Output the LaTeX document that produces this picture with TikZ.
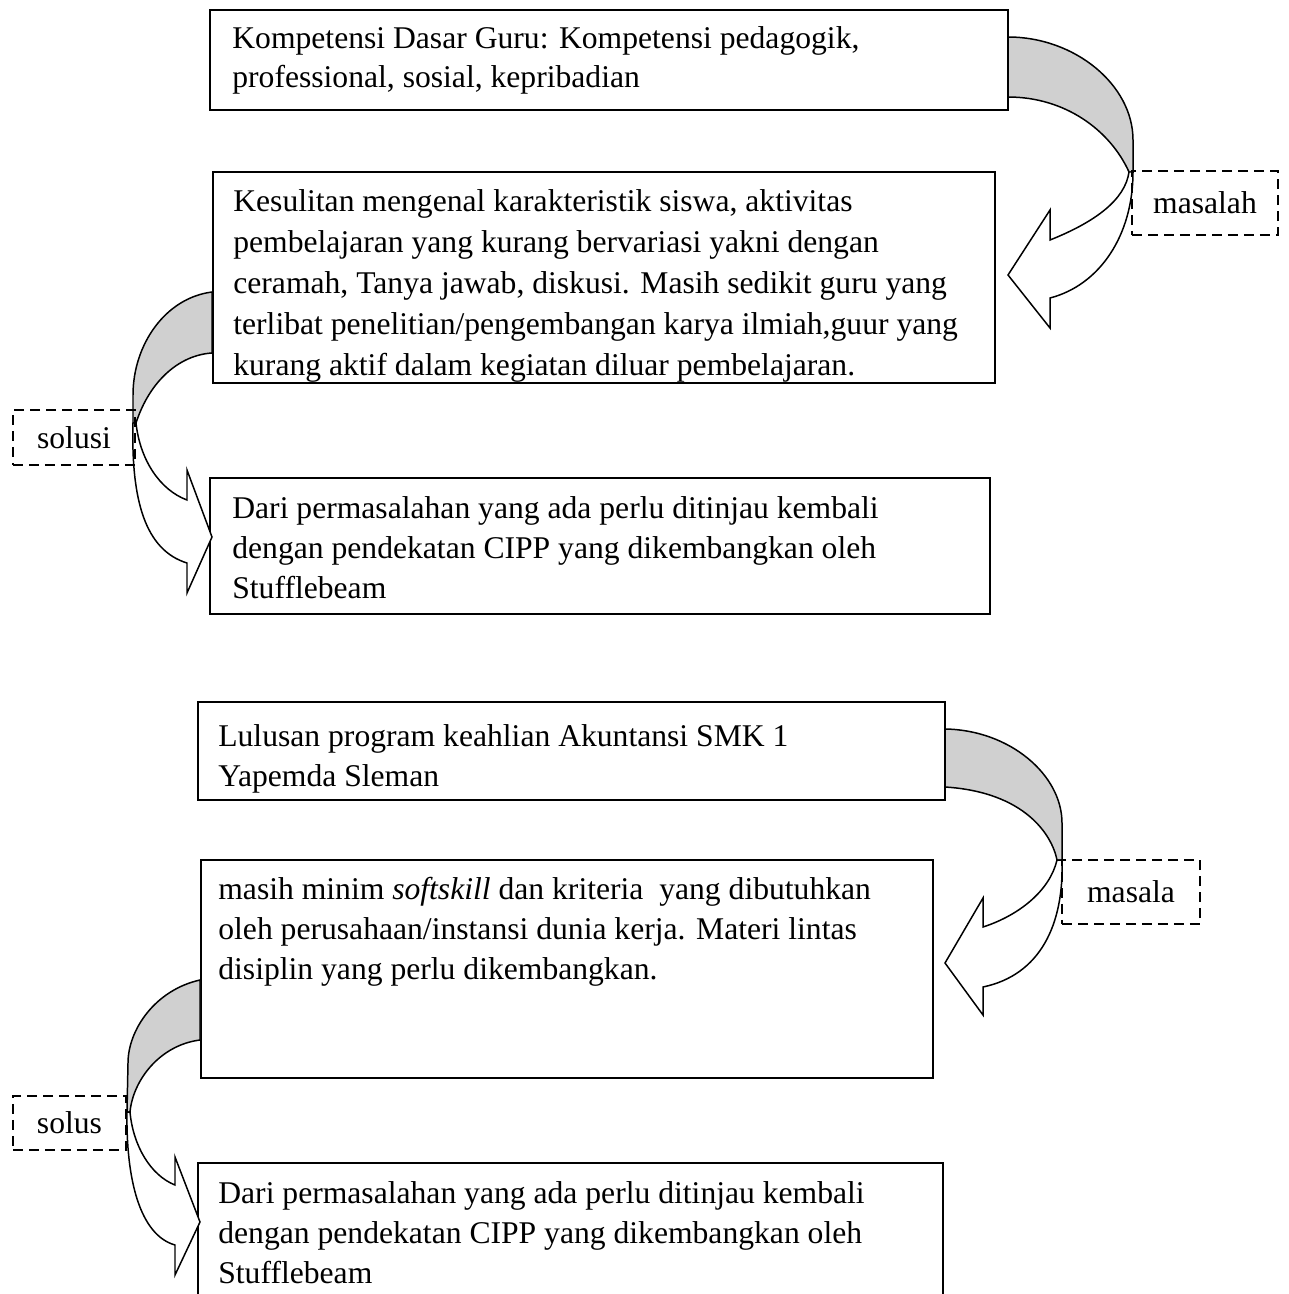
\documentclass[tikz,border=0pt]{standalone}
\usepackage{fontspec}
\setmainfont{Liberation Serif}
\definecolor{bandgray}{RGB}{208,208,208}

\begin{document}
\begin{tikzpicture}[x=0.02cm,y=-0.02cm]

                \tikzset{box/.style = {draw,line width=1.1pt}}
                \tikzset{tag/.style = {draw,line width=1.1pt,dash pattern=on 5.7pt off 3.4pt,inner sep=0pt,font=\fontsize{18}{22.6}\selectfont}}
                \tikzset{txt/.style = {anchor=base west,align=left,inner sep=0pt,font=\fontsize{18}{22.6}\selectfont}}
                \tikzset{bandfill/.style = {draw,fill=bandgray,line width=0.85pt}}
                \tikzset{bentarrow/.style = {draw,fill=white,line width=0.85pt}}

                \useasboundingbox (0,0) rectangle (1288,1294);
                \clip (0,0) rectangle (1288,1294);

                % first chart (base anchor sits on the last line)
                \draw[box] (210,10) rectangle (1008,110);
                \node[txt] (t1) at (232,88) {Kompetensi Dasar Guru: Kompetensi pedagogik,\\
                    professional, sosial, kepribadian};

                \draw[box] (213,172) rectangle (995,383);
                \begin{scope}
                    \clip (213,172) rectangle (995,383);
                    \node[txt,font=\fontsize{18}{23.2}\selectfont] (t2) at (233,375) {Kesulitan mengenal karakteristik siswa, aktivitas\\
                        pembelajaran yang kurang bervariasi yakni dengan\\
                        ceramah, Tanya jawab, diskusi. Masih sedikit guru yang\\
                        terlibat penelitian/pengembangan karya ilmiah,guur yang\\
                        kurang aktif dalam kegiatan diluar pembelajaran.};
                \end{scope}

                \draw[box] (210,478) rectangle (990,614);
                \node[txt] (t3) at (232,598) {Dari permasalahan yang ada perlu ditinjau kembali\\
                    dengan pendekatan CIPP yang dikembangkan oleh\\
                    Stufflebeam};

                % masalah arrow
                \draw[bandfill] (1008,37) .. controls (1075,37) and (1133,85) .. (1133,140) -- (1133,172)
                    -- (1129,172) .. controls (1110,130) and (1065,97) .. (1008,97) -- cycle;
                \draw[bentarrow] (1133,172) .. controls (1133,235) and (1100,285) .. (1050,298)
                    -- (1050,328) -- (1008,275) -- (1050,210) -- (1050,240)
                    .. controls (1095,222) and (1125,200) .. (1129,172) -- cycle;
                \node[tag,minimum width=2.92cm,minimum height=1.28cm] (m1) at (1205,203) {masalah};

                % solusi arrow
                \draw[bandfill] (212,292) .. controls (165,298) and (133,345) .. (133,395) -- (133,423)
                    -- (136,423) .. controls (150,380) and (180,355) .. (212,353) -- cycle;
                \draw[bentarrow] (133,423) .. controls (131,500) and (145,550) .. (187,563)
                    -- (187,593) -- (212,537) -- (187,470) -- (187,500)
                    .. controls (160,490) and (140,460) .. (136,423) -- cycle;
                \node[tag,minimum width=2.44cm,minimum height=1.1cm] (s1) at (74,437.5) {solusi};

                % second chart
                \draw[box] (198,702) rectangle (945,800);
                \node[txt] (t4) at (218,786) {Lulusan program keahlian Akuntansi SMK 1\\
                    Yapemda Sleman};

                \draw[box] (201,860) rectangle (933,1078);
                \node[txt] (t5) at (218,979) {masih minim \textit{softskill} dan kriteria\ \ yang dibutuhkan\\
                    oleh perusahaan/instansi dunia kerja. Materi lintas\\
                    disiplin yang perlu dikembangkan.};

                \draw[box] (198,1163) rectangle (943,1310);
                \node[txt] (t6) at (218,1283) {Dari permasalahan yang ada perlu ditinjau kembali\\
                    dengan pendekatan CIPP yang dikembangkan oleh\\
                    Stufflebeam};

                % masala arrow
                \draw[bandfill] (945,729) .. controls (1010,730) and (1062,775) .. (1062,823) -- (1062,860)
                    -- (1057,860) .. controls (1052,835) and (1025,792) .. (945,787) -- cycle;
                \draw[bentarrow] (1062,860) .. controls (1064,925) and (1040,975) .. (983,987)
                    -- (983,1015) -- (945,963) -- (983,898) -- (983,927)
                    .. controls (1020,915) and (1050,890) .. (1057,860) -- cycle;
                \node[tag,minimum width=2.76cm,minimum height=1.28cm] (m2) at (1131,892) {masala};

                % solus arrow
                \draw[bandfill] (200,980) .. controls (155,990) and (128,1030) .. (128,1063) -- (127,1112)
                    -- (130,1112) .. controls (133,1080) and (160,1045) .. (200,1040) -- cycle;
                \draw[bentarrow] (127,1112) .. controls (126,1180) and (140,1235) .. (175,1245)
                    -- (175,1275) -- (200,1222) -- (175,1157) -- (175,1185)
                    .. controls (150,1175) and (133,1145) .. (130,1112) -- cycle;
                \node[tag,minimum width=2.26cm,minimum height=1.08cm] (s2) at (69.5,1123) {solus};
            \end{tikzpicture}
\end{document}
